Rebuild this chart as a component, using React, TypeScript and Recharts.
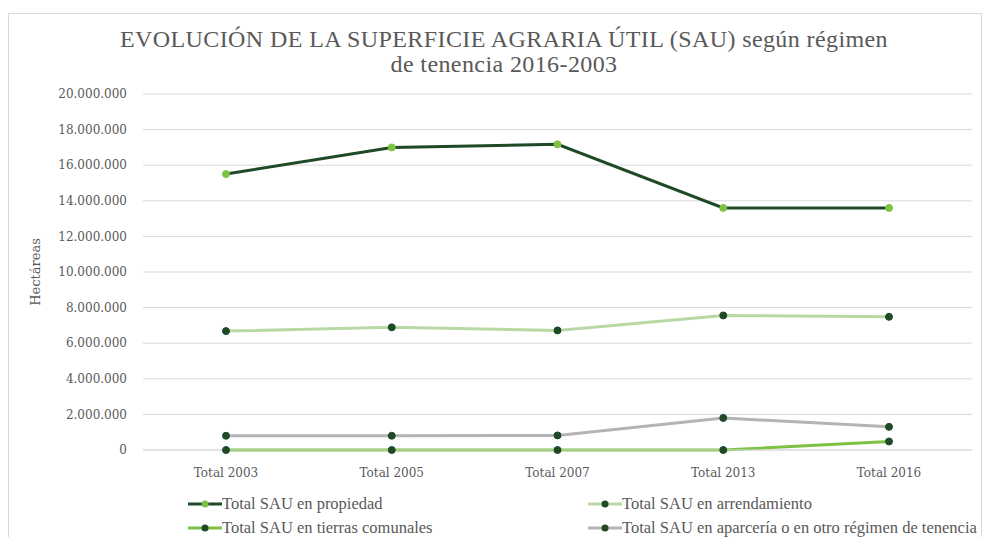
import { LineChart, Line, XAxis, YAxis, CartesianGrid } from 'recharts';

const years = ['Total 2003', 'Total 2005', 'Total 2007', 'Total 2013', 'Total 2016'];
const propiedad = [15500000, 17000000, 17170000, 13600000, 13600000];
const arrendamiento = [6680000, 6890000, 6720000, 7560000, 7480000];
const comunales = [0, 0, 0, 0, 480000];
const aparceria = [800000, 800000, 820000, 1800000, 1300000];
const yTicks = [0, 2000000, 4000000, 6000000, 8000000, 10000000, 12000000, 14000000, 16000000, 18000000, 20000000];

const series = [
  { key: 'propiedad', name: 'Total SAU en propiedad', stroke: '#1f4a28', dot: '#7dc242' },
  { key: 'arrendamiento', name: 'Total SAU en arrendamiento', stroke: '#b9d9a4', dot: '#1f4a28' },
  { key: 'comunales', name: 'Total SAU en tierras comunales', stroke: '#7cc243', dot: '#1f4a28' },
  { key: 'aparceria', name: 'Total SAU en aparcería o en otro régimen de tenencia', stroke: '#b4b4b4', dot: '#1f4a28' },
];

const data = years.map((y, i) => ({
  year: y,
  propiedad: propiedad[i],
  arrendamiento: arrendamiento[i],
  comunales: comunales[i],
  aparceria: aparceria[i],
}));

const fmt = (v: number) => v.toLocaleString('de-DE');

const serifWide = 'DejaVu Serif, Liberation Serif, serif';
const serifNarrow = 'Liberation Serif, serif';

const tickStyle = { fill: '#595959', fontSize: 12, fontFamily: serifWide };

const LegendItem = ({ s, left, top }: any) => (
  <div style={{ position: 'absolute', left, top, display: 'flex', alignItems: 'center', whiteSpace: 'nowrap' }}>
    <svg width={34} height={10}>
      <line x1={0} y1={5} x2={34} y2={5} stroke={s.stroke} strokeWidth={3} />
      <circle cx={17} cy={5} r={3.5} fill={s.dot} />
    </svg>
    <span style={{ fontFamily: serifNarrow, fontSize: 16.5, color: '#595959' }}>{s.name}</span>
  </div>
);

const App = () => {
  return (
    <div style={{ position: 'absolute', left: 8, top: 13, width: 972, height: 540, border: '1px solid #d9d9d9', background: '#fff', overflow: 'hidden', fontFamily: serifWide }}>
      <div style={{ position: 'absolute', left: 0, width: 990, top: 13, textAlign: 'center', fontFamily: serifNarrow, fontSize: 24, lineHeight: '25px', letterSpacing: 0.4, color: '#595959' }}>
        EVOLUCIÓN DE LA SUPERFICIE AGRARIA ÚTIL (SAU) según régimen
        <br />
        de tenencia 2016-2003
      </div>
      <LineChart width={971} height={523} data={data} margin={{ top: 80, right: 8, bottom: 57, left: 0 }}>
        <CartesianGrid vertical={false} stroke="#d9d9d9" />
        <XAxis dataKey="year" axisLine={{ stroke: '#d9d9d9' }} tickLine={false} tick={tickStyle} tickMargin={12} height={30} padding={{ left: 83, right: 83 }} />
        <YAxis
          width={134}
          domain={[0, 20000000]}
          ticks={yTicks}
          tickFormatter={fmt}
          axisLine={false}
          tickLine={false}
          tick={tickStyle}
          tickMargin={10}
          label={{ value: 'Hectáreas', angle: -90, position: 'insideLeft', offset: 26, style: { fill: '#595959', fontSize: 13, fontFamily: serifWide, textAnchor: 'middle' } }}
        />
        {series.map((s) => (
          <Line
            key={s.key}
            dataKey={s.key}
            name={s.name}
            stroke={s.stroke}
            strokeWidth={3}
            dot={{ r: 3.5, fill: s.dot, stroke: s.dot, strokeWidth: 1 }}
            isAnimationActive={false}
          />
        ))}
      </LineChart>
      <LegendItem s={series[0]} left={179} top={480} />
      <LegendItem s={series[1]} left={579} top={480} />
      <LegendItem s={series[2]} left={179} top={504} />
      <LegendItem s={series[3]} left={579} top={504} />
    </div>
  );
};

export default App;
